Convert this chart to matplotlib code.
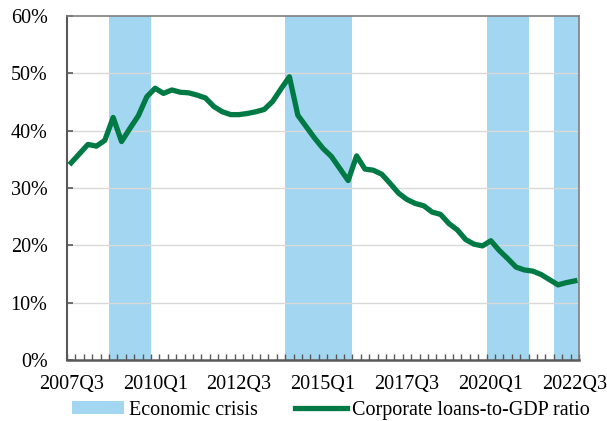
import matplotlib
matplotlib.use("Agg")
import matplotlib.pyplot as plt
from matplotlib.ticker import FuncFormatter, FixedLocator

plt.rcParams['font.family'] = ['Liberation Serif', 'DejaVu Serif']

# Quarterly categories 2007Q3 .. 2022Q3
quarters = []
y, q = 2007, 3
for _ in range(61):
    quarters.append(f"{y}Q{q}")
    q += 1
    if q > 4:
        q = 1
        y += 1

ratio = [34.4, 36.0, 37.6, 37.3, 38.3, 42.3, 38.1, 40.4, 42.6, 45.9,
         47.4, 46.5, 47.1, 46.7, 46.6, 46.2, 45.7, 44.2, 43.3, 42.8,
         42.8, 43.0, 43.3, 43.7, 45.1, 47.3, 49.4, 42.7, 40.7, 38.7,
         36.9, 35.5, 33.4, 31.3, 35.6, 33.3, 33.1, 32.4, 30.8, 29.1,
         28.0, 27.3, 26.9, 25.8, 25.4, 23.8, 22.7, 21.0, 20.2, 19.9,
         20.8, 19.1, 17.7, 16.2, 15.7, 15.5, 14.9, 14.0, 13.1, 13.5,
         13.8]

crisis = [0, 0, 0, 0, 0, 1, 1, 1, 1, 1,
          0, 0, 0, 0, 0, 0, 0, 0, 0, 0,
          0, 0, 0, 0, 0, 0, 1, 1, 1, 1,
          1, 1, 1, 1, 0, 0, 0, 0, 0, 0,
          0, 0, 0, 0, 0, 0, 0, 0, 0, 0,
          1, 1, 1, 1, 1, 0, 0, 0, 1, 1,
          1]

tick_labels = ["2007Q3", "2010Q1", "2012Q3", "2015Q1", "2017Q3", "2020Q1", "2022Q3"]

fig = plt.figure(figsize=(6.07, 4.21), dpi=100)
ax = fig.add_axes([67/607, (421-360)/421, 512/607, 344/421])

x = list(range(len(quarters)))
bars = ax.bar(x, [c * 60 for c in crisis], width=1.0, color='#A3D6F0', zorder=0.5,
              label='Economic crisis', linewidth=0)
for v in range(10, 60, 10):
    ax.axhline(v, color='#D9D9D9', linewidth=1.0, zorder=1)
line, = ax.plot(x, ratio, color='#007A45', linewidth=3.8, zorder=3,
                label='Corporate loans-to-GDP ratio')

ax.set_xlim(-0.5, len(quarters) - 0.5)
ax.set_ylim(0, 60)
ax.set_yticks(range(0, 61, 10))
ax.yaxis.set_major_formatter(FuncFormatter(lambda v, p: f"{int(v)}%"))

ax.set_xticks([quarters.index(t) for t in tick_labels])
ax.set_xticklabels(tick_labels)
ax.xaxis.set_minor_locator(FixedLocator([i - 0.5 for i in range(len(quarters) + 1)]))
ax.tick_params(axis='x', which='major', length=0, pad=10.5, labelsize=14.5)
ax.tick_params(axis='x', which='minor', length=4, direction='in', color='#595959', width=1)
ax.tick_params(axis='y', length=4, direction='in', color='#595959', width=1.2,
               pad=14, labelsize=14.5)

for s in ax.spines.values():
    s.set_color('#7F7F7F')
    s.set_linewidth(1.2)
ax.spines['bottom'].set_color('#595959')
ax.spines['bottom'].set_linewidth(1.8)
ax.spines['left'].set_color('#595959')
ax.spines['left'].set_linewidth(1.5)

leg = fig.legend([bars, line], ['Economic crisis', 'Corporate loans-to-GDP ratio'],
                 loc='center', bbox_to_anchor=(0.545, 0.025), ncol=2, frameon=False,
                 fontsize=14.5, handlelength=2.6, handleheight=0.6,
                 columnspacing=1.8, handletextpad=0.25)

fig.savefig("out.png", dpi=100)
